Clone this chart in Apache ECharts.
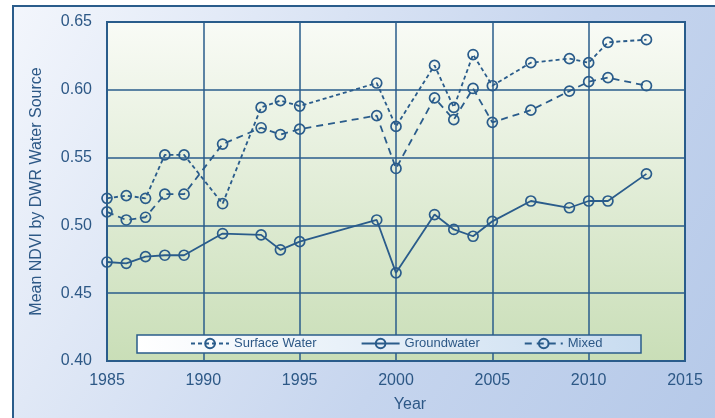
<!DOCTYPE html>
<html>
<head>
<meta charset="utf-8">
<script src="https://cdn.jsdelivr.net/npm/echarts@6/dist/echarts.min.js"></script>
<style>
  html, body { margin: 0; padding: 0; background: #fff; }
  #chart { width: 715px; height: 418px; }
</style>
</head>
<body>
<div id="chart"></div>
<script>
  // values
  var years = [1985, 1986, 1987, 1988, 1989, 1991, 1993, 1994, 1995, 1999, 2000, 2002, 2003, 2004, 2005, 2007, 2009, 2010, 2011, 2013];
  var surfaceWater = [0.520, 0.522, 0.520, 0.552, 0.552, 0.516, 0.587, 0.592, 0.588, 0.605, 0.573, 0.618, 0.587, 0.626, 0.603, 0.620, 0.623, 0.620, 0.635, 0.637];
  var groundwater = [0.473, 0.472, 0.477, 0.478, 0.478, 0.494, 0.493, 0.482, 0.488, 0.504, 0.465, 0.508, 0.497, 0.492, 0.503, 0.518, 0.513, 0.518, 0.518, 0.538];
  var mixed = [0.510, 0.504, 0.506, 0.523, 0.523, 0.560, 0.572, 0.567, 0.571, 0.581, 0.542, 0.594, 0.578, 0.601, 0.576, 0.585, 0.599, 0.606, 0.609, 0.603];
  var seriesNames = ['Surface Water', 'Groundwater', 'Mixed'];
  var yTicks = { min: 0.40, max: 0.65, step: 0.05 };
  var xTicks = { min: 1985, max: 2015, step: 5 };

  var blue = '#2a5c8b';
  var textBlue = '#2d5886';

  function pairs(vals) {
    return years.map(function (y, i) { return [y, vals[i]]; });
  }

  function makeSeries(name, vals, dash) {
    return {
      name: name,
      type: 'line',
      data: pairs(vals),
      symbol: 'circle',
      symbolSize: 10,
      z: 3,
      lineStyle: { color: blue, width: 1.8, type: dash },
      itemStyle: { color: 'rgba(0,0,0,0)', borderColor: blue, borderWidth: 1.7 }
    };
  }

  var myChart = echarts.init(document.getElementById('chart'));
  var option = {
    animation: false,
    textStyle: { fontFamily: 'Liberation Sans, Arial, sans-serif' },
    graphic: [
      {
        type: 'rect',
        z: -10,
        shape: { x: 13, y: 6, width: 720, height: 430 },
        style: {
          fill: new echarts.graphic.LinearGradient(0, 0, 1, 1, [
            { offset: 0, color: '#f3f6fc' },
            { offset: 0.6, color: '#c6d5ee' },
            { offset: 1, color: '#b4c8e8' }
          ]),
          stroke: blue,
          lineWidth: 2
        }
      },
      {
        type: 'rect',
        z: 3,
        shape: { x: 137, y: 335, width: 504, height: 18 },
        style: {
          fill: new echarts.graphic.LinearGradient(0, 0, 1, 0, [
            { offset: 0, color: '#ffffff' },
            { offset: 1, color: '#c8dcf0' }
          ]),
          stroke: blue,
          lineWidth: 1.5
        }
      }
    ],
    grid: {
      left: 107, top: 22, right: 30, bottom: 57,
      show: true,
      borderColor: blue,
      borderWidth: 2,
      backgroundColor: new echarts.graphic.LinearGradient(0, 0, 0, 1, [
        { offset: 0, color: '#f9fbf6' },
        { offset: 1, color: '#c9deb7' }
      ])
    },
    legend: {
      data: seriesNames,
      left: 190,
      top: 337,
      itemWidth: 38,
      itemHeight: 12,
      itemGap: 44,
      padding: 0,
      textStyle: { color: textBlue, fontSize: 13 }
    },
    xAxis: {
      type: 'value',
      min: xTicks.min,
      max: xTicks.max,
      interval: xTicks.step,
      name: 'Year',
      nameLocation: 'middle',
      nameGap: 36,
      nameTextStyle: { color: textBlue, fontSize: 16, padding: [0, 0, 0, 28] },
      axisLine: { lineStyle: { color: blue, width: 2 } },
      axisTick: { show: false },
      axisLabel: {
        color: textBlue, fontSize: 16, margin: 12,
        formatter: function (v) { return String(v); }
      },
      splitLine: { lineStyle: { color: blue, width: 1.5 } }
    },
    yAxis: {
      type: 'value',
      min: yTicks.min,
      max: yTicks.max,
      interval: yTicks.step,
      name: 'Mean NDVI by DWR Water Source',
      nameLocation: 'middle',
      nameGap: 62,
      nameTextStyle: { color: textBlue, fontSize: 16 },
      axisLine: { lineStyle: { color: blue, width: 2 } },
      axisTick: { show: false },
      axisLabel: {
        color: textBlue, fontSize: 16, margin: 15,
        formatter: function (v) { return v.toFixed(2); }
      },
      splitLine: { lineStyle: { color: blue, width: 1.5 } }
    },
    series: [
      makeSeries(seriesNames[0], surfaceWater, [4, 3]),
      makeSeries(seriesNames[1], groundwater, 'solid'),
      makeSeries(seriesNames[2], mixed, [7, 5])
    ]
  };
  myChart.setOption(option);
</script>
</body>
</html>
